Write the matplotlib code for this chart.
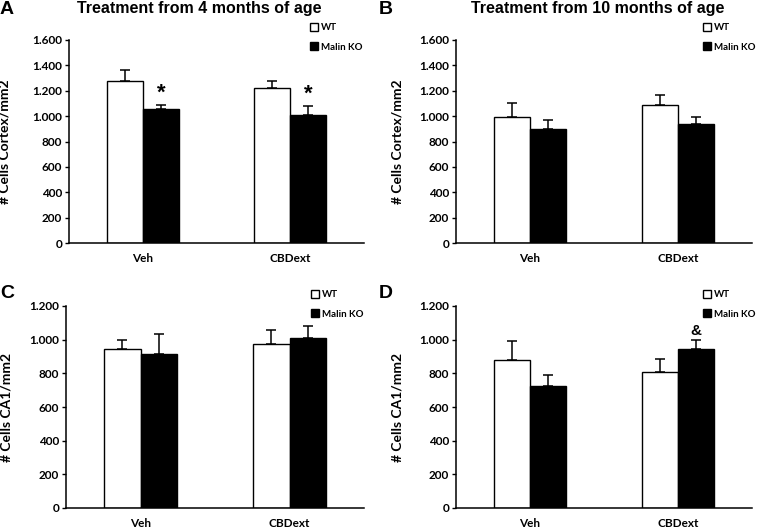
import matplotlib
matplotlib.use("Agg")
import matplotlib.pyplot as plt
from matplotlib.patches import Patch
from matplotlib.ticker import FuncFormatter

groups = ['Veh', 'CBDext']
series = ['WT', 'Malin KO']

# panel A: cortex, treatment from 4 months
a_wt = [1275, 1225]
a_wt_err = [88, 53]
a_ko = [1055, 1010]
a_ko_err = [30, 72]

# panel B: cortex, treatment from 10 months
b_wt = [995, 1085]
b_wt_err = [112, 78]
b_ko = [897, 940]
b_ko_err = [70, 54]

# panel C: CA1, treatment from 4 months
c_wt = [946, 975]
c_wt_err = [53, 85]
c_ko = [916, 1008]
c_ko_err = [116, 74]

# panel D: CA1, treatment from 10 months
d_wt = [880, 808]
d_wt_err = [112, 76]
d_ko = [722, 945]
d_ko_err = [69, 55]

# significance marks above the Malin KO bars
a_marks = ['*', '*']
b_marks = ['', '']
c_marks = ['', '']
d_marks = ['', '&']

W, H = 758, 531
fig = plt.figure(figsize=(W / 100, H / 100), dpi=100)

label_font = 'Lato'
title_font = 'Liberation Sans'


def thousands(v, pos):
    return '{:,.0f}'.format(v).replace(',', '.')


def panel(rect, wt, wt_err, ko, ko_err, marks, ymax, ylabel, ylab_x, leg_x, leg_y):
    l, t, r, b = rect
    ax = fig.add_axes([l / W, 1 - b / H, (r - l) / W, (b - t) / H])
    x = list(range(len(groups)))
    bw = 0.245
    xw = [i - bw / 2 for i in x]
    xk = [i + bw / 2 for i in x]
    ax.bar(xw, wt, bw, color='white', edgecolor='black', linewidth=1.0, zorder=2)
    ax.bar(xk, ko, bw, color='black', edgecolor='black', linewidth=1.0, zorder=2)
    ax.errorbar(xw, wt, yerr=[[0] * len(wt), wt_err], fmt='none', ecolor='black',
                elinewidth=1.1, capsize=3.5, capthick=1.1, zorder=3)
    ax.errorbar(xk, ko, yerr=[[0] * len(ko), ko_err], fmt='none', ecolor='black',
                elinewidth=1.1, capsize=3.5, capthick=1.1, zorder=3)
    for xi, v, e, m in zip(xk, ko, ko_err, marks):
        if m == '*':
            ax.annotate(m, xy=(xi, v + e), xytext=(0, 1), textcoords='offset points',
                        ha='center', va='bottom', fontsize=16, fontweight='bold',
                        family=title_font)
        elif m:
            ax.annotate(m, xy=(xi, v + e), xytext=(0, 1), textcoords='offset points',
                        ha='center', va='bottom', fontsize=11, fontweight='bold',
                        family=title_font)
    ax.set_xlim(-0.5, 1.5)
    ax.set_ylim(0, ymax)
    ax.set_yticks(range(0, ymax + 1, 200))
    ax.yaxis.set_major_formatter(FuncFormatter(thousands))
    ax.set_xticks(x)
    ax.set_xticklabels(groups)
    for s in ['top', 'right']:
        ax.spines[s].set_visible(False)
    for s in ['left', 'bottom']:
        ax.spines[s].set_linewidth(1.1)
    ax.tick_params(axis='x', length=0, pad=7.5)
    ax.tick_params(axis='y', length=3, width=1, pad=2)
    for lab in ax.get_xticklabels() + ax.get_yticklabels():
        lab.set_fontfamily(label_font)
        lab.set_fontweight('bold')
        lab.set_fontsize(8.5)
    ax.set_ylabel(ylabel, fontsize=10, fontweight='bold', family=label_font)
    ax.yaxis.set_label_coords(ylab_x, 0.5)
    handles = [Patch(facecolor='white', edgecolor='black', linewidth=1.0),
               Patch(facecolor='black', edgecolor='black', linewidth=1.0)]
    ax.legend(handles, series, loc='upper left', bbox_to_anchor=(leg_x / W, 1 - leg_y / H),
              bbox_transform=fig.transFigure, frameon=False, borderpad=0, borderaxespad=0,
              handlelength=0.85, handleheight=0.85, handletextpad=0.25, labelspacing=1.05,
              prop={'family': label_font, 'weight': 'bold', 'size': 7})
    return ax


axA = panel((69, 40, 364, 243), a_wt, a_wt_err, a_ko, a_ko_err, a_marks, 1600,
            '# Cells Cortex/mm2', -0.197, 310, 23)
axB = panel((456, 40, 752, 243), b_wt, b_wt_err, b_ko, b_ko_err, b_marks, 1600,
            '# Cells Cortex/mm2', -0.179, 703, 23)
axC = panel((66, 306, 364, 508), c_wt, c_wt_err, c_ko, c_ko_err, c_marks, 1200,
            '# Cells CA1/mm2', -0.18, 311, 290)
axD = panel((456, 306, 752, 508), d_wt, d_wt_err, d_ko, d_ko_err, d_marks, 1200,
            '# Cells CA1/mm2', -0.179, 703, 290)

# panel letters
for letter, px, py in [('A', 0, 9), ('B', 379, 9), ('C', 0, 294), ('D', 379, 294)]:
    fig.text(px / W, 1 - py / H, letter, fontsize=14, fontweight='bold',
             family=title_font, ha='left', va='center')

# column titles
fig.text(199 / W, 1 - 9 / H, 'Treatment from 4 months of age', fontsize=11.5,
         fontweight='bold', family=title_font, ha='center', va='center')
fig.text(598 / W, 1 - 9 / H, 'Treatment from 10 months of age', fontsize=11.5,
         fontweight='bold', family=title_font, ha='center', va='center')

fig.savefig('out.png', dpi=100)
